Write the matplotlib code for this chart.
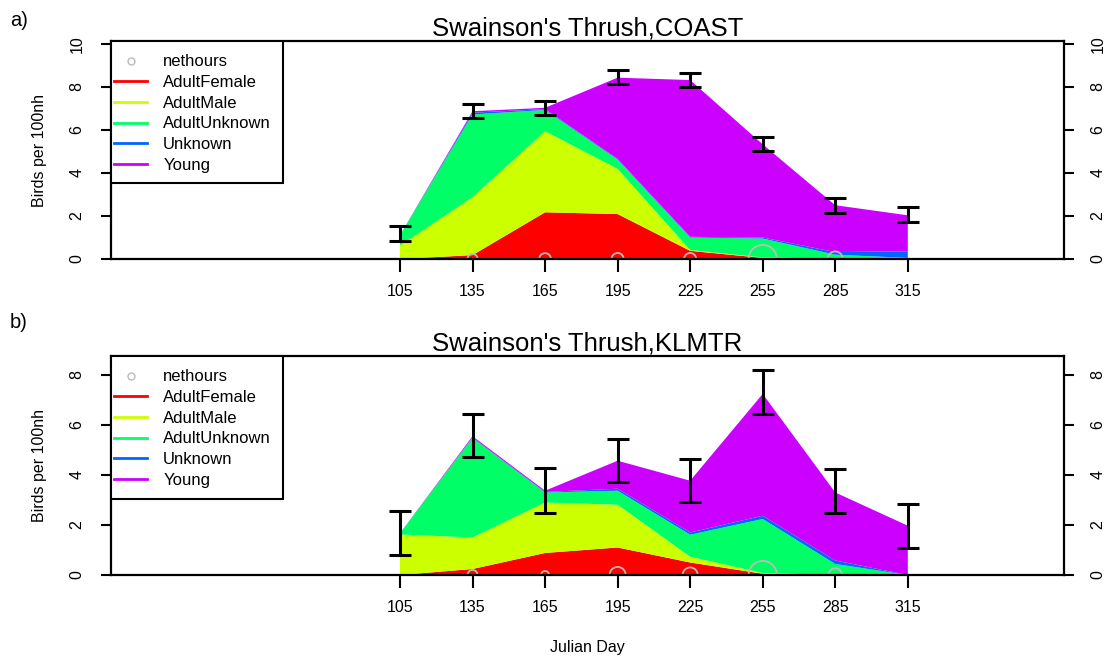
import numpy as np
import matplotlib.pyplot as plt
from matplotlib.lines import Line2D
from matplotlib.patches import Rectangle

plt.rcParams['font.family'] = ['Liberation Sans', 'DejaVu Sans']

days = [105, 135, 165, 195, 225, 255, 285, 315]
groups = ['AdultFemale', 'AdultMale', 'AdultUnknown', 'Unknown', 'Young']
cols = ['#FF0000', '#CCFF00', '#00FF66', '#0066FF', '#CC00FF']

# COAST: birds per 100 net hours, by age/sex group
coast_female = [0.0, 0.18, 2.17, 2.09, 0.38, 0.05, 0.0, 0.0]
coast_male = [0.62, 2.69, 3.77, 2.10, 0.04, 0.02, 0.02, 0.0]
coast_adunk = [0.48, 3.85, 0.99, 0.43, 0.58, 0.88, 0.18, 0.05]
coast_unk = [0.0, 0.08, 0.04, 0.03, 0.03, 0.05, 0.12, 0.31]
coast_young = [0.0, 0.07, 0.06, 3.78, 7.29, 4.33, 2.18, 1.67]
coast_tot = [1.19, 6.88, 7.03, 8.45, 8.32, 5.33, 2.50, 2.06]
coast_se = [0.35, 0.34, 0.32, 0.33, 0.34, 0.33, 0.35, 0.34]
coast_nethours = [0, 25, 34, 36, 36, 196, 56, 0]

# KLMTR
klm_female = [0.0, 0.24, 0.88, 1.10, 0.50, 0.05, 0.0, 0.0]
klm_male = [1.62, 1.26, 2.02, 1.71, 0.23, 0.03, 0.0, 0.0]
klm_adunk = [0.05, 3.98, 0.40, 0.56, 0.88, 2.16, 0.44, 0.0]
klm_unk = [0.0, 0.02, 0.02, 0.08, 0.09, 0.13, 0.14, 0.0]
klm_young = [0.0, 0.05, 0.05, 1.12, 2.07, 4.87, 2.72, 1.97]
klm_tot = [1.67, 5.57, 3.37, 4.57, 3.77, 7.30, 3.35, 1.95]
klm_se = [0.88, 0.87, 0.89, 0.87, 0.87, 0.88, 0.89, 0.87]
klm_nethours = [0, 25, 16, 64, 56, 196, 45, 0]

panels = [
    ("Swainson's Thrush,COAST", [coast_female, coast_male, coast_adunk, coast_unk, coast_young],
     coast_tot, coast_se, coast_nethours, 10.15, [0, 2, 4, 6, 8, 10], 'a)'),
    ("Swainson's Thrush,KLMTR", [klm_female, klm_male, klm_adunk, klm_unk, klm_young],
     klm_tot, klm_se, klm_nethours, 8.77, [0, 2, 4, 6, 8], 'b)'),
]
boxes = [[0.1003, 0.6052, 0.8635, 0.3328], [0.1003, 0.1235, 0.8635, 0.3343]]
letter_y = [0.968, 0.508]
ylab_y = [0.771, 0.291]

fig = plt.figure(figsize=(11.04, 6.56), dpi=100)

for k, (title, layers, tot, se, nh, ytop, yt, letter) in enumerate(panels):
    ax = fig.add_axes(boxes[k])
    ax.stackplot(days, *layers, colors=cols, lw=0, zorder=1)
    ax.errorbar(days, tot, yerr=se, fmt='none', ecolor='black', elinewidth=2.2,
                capsize=8.2, capthick=2.2, zorder=3)
    ax.scatter(days, np.zeros(len(days)), s=np.array(nh) * 2.1, facecolors='none',
               edgecolors='#BBBBBB', linewidths=1.3, clip_on=True, zorder=2)

    ax.set_xlim(-14.6, 379.6)
    ax.set_ylim(0, ytop)
    ax.set_xticks(days)
    ax.set_xticklabels([str(d) for d in days])
    ax.set_yticks(yt)
    ax.tick_params(axis='x', length=9, width=1.5, pad=9, labelsize=11.5)
    ax.tick_params(axis='y', length=7, width=1.5, pad=12, labelsize=11.5,
                   labelrotation=90, right=True, labelright=True)
    for lab in ax.get_yticklabels():
        lab.set_va('center')
    for sp in ax.spines.values():
        sp.set_linewidth(1.6)

    ax.set_title(title, fontsize=18.5, pad=3)

    # legend box like R's legend(): frame drawn separately
    ax.add_patch(Rectangle((0, 0.348), 0.1807, 0.652, transform=ax.transAxes,
                           facecolor='white', edgecolor='black', lw=1.5, zorder=4))
    handles = [Line2D([], [], marker='o', ls='none', mfc='none', mec='#BBBBBB', ms=5)]
    handles += [Line2D([], [], color=c, lw=2) for c in cols]
    leg = ax.legend(handles, ['nethours'] + groups, loc='upper left',
                    bbox_to_anchor=(0.0035, 0.937), borderaxespad=0, frameon=False,
                    fontsize=12, handlelength=2.0, handletextpad=0.95,
                    labelspacing=0.34, borderpad=0)
    leg.set_zorder(5)

    fig.text(0.009, letter_y[k], letter, fontsize=14.5, va='center')
    fig.text(0.036, ylab_y[k], 'Birds per 100nh', rotation=90, fontsize=11.5,
             ha='center', va='center')

fig.text(0.532, 0.013, 'Julian Day', fontsize=11.5, ha='center', va='center')

fig.savefig('out.png', dpi=100)
